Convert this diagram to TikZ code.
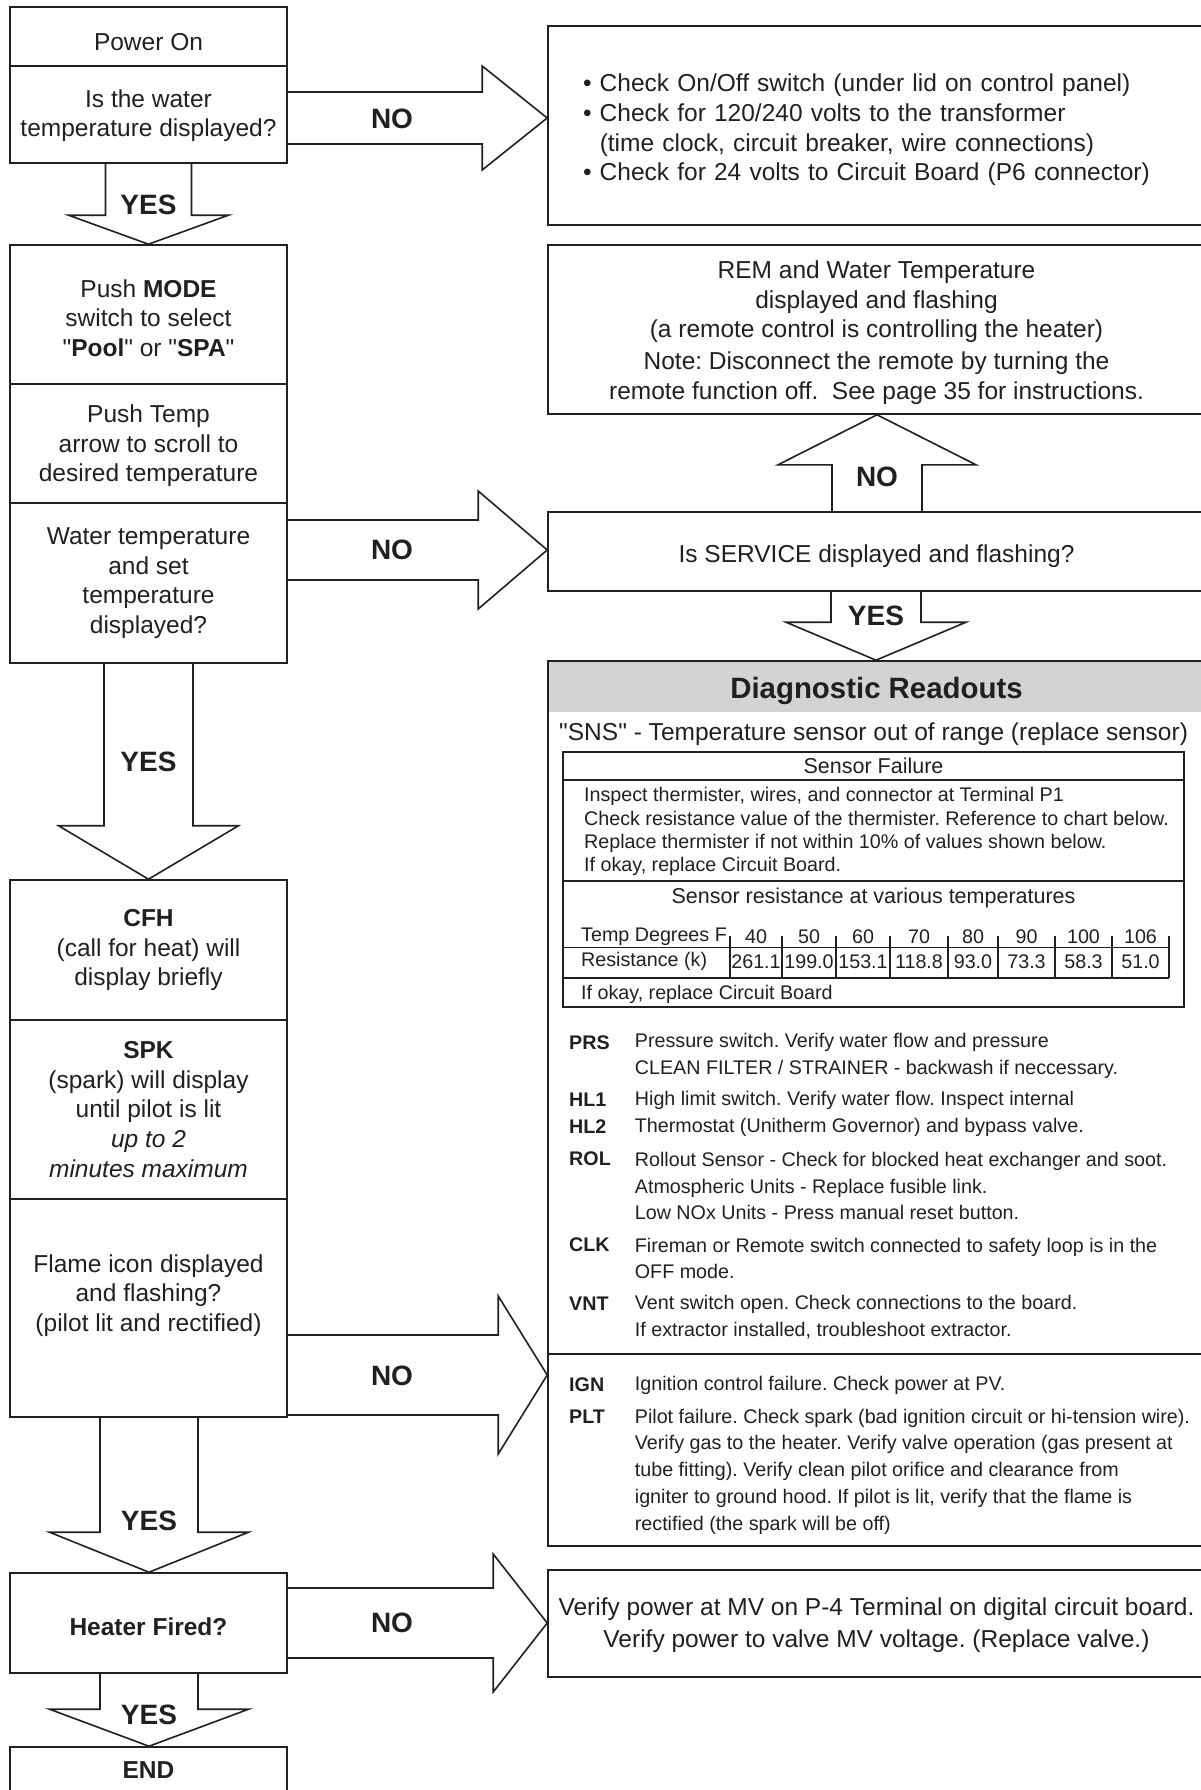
\documentclass[tikz,border=0pt]{standalone}
\usepackage{fontspec}
\setmainfont{Liberation Sans}
\usetikzlibrary{calc, positioning}
\frenchspacing

\definecolor{ink}{RGB}{35,31,32}
\definecolor{band}{RGB}{209,211,212}

\newcommand{\fbody}{\fontsize{24.5}{29.7}\selectfont}
\newcommand{\fmid}{\fontsize{21.5}{24}\selectfont}
\newcommand{\fsmall}{\fontsize{19.7}{23.3}\selectfont}
\newcommand{\fcode}{\fontsize{19.7}{26.8}\selectfont}
\newcommand{\fhead}{\fontsize{29.4}{32}\selectfont\bfseries}
\newcommand{\ftag}{\fontsize{28}{30}\selectfont\bfseries}
% straight double quote (no tex-text mapping)
\font\qf="Liberation Sans" at 24.5pt
\newcommand{\dq}{{\qf"}}
% taller first line pushes a centred text block down
\newcommand{\padtop}[1]{\rule{0pt}{#1}}

% fat outlined arrows: from, to, position, shaft half width, head half width, head length
\newcommand{\fatright}[6]{%
  \draw[fat] ($(#1.east |- 0,#3)+(0,-#4)$) -- ($(#2.west |- 0,#3)+(-#6,-#4)$) -- ++(0,#4-#5)
    -- (#2.west |- 0,#3) -- ($(#2.west |- 0,#3)+(-#6,#5)$) -- ++(0,#4-#5) -- ($(#1.east |- 0,#3)+(0,#4)$);}
\newcommand{\fatdown}[6]{%
  \draw[fat] ($(#3,0 |- #1.south)+(-#4,0)$) -- ($(#3,0 |- #2.north)+(-#4,-#6)$) -- ++(#4-#5,0)
    -- (#3,0 |- #2.north) -- ($(#3,0 |- #2.north)+(#5,-#6)$) -- ++(#4-#5,0) -- ($(#3,0 |- #1.south)+(#4,0)$);}
\newcommand{\fatup}[6]{%
  \draw[fat] ($(#3,0 |- #1.north)+(-#4,0)$) -- ($(#3,0 |- #2.south)+(-#4,#6)$) -- ++(#4-#5,0)
    -- (#3,0 |- #2.south) -- ($(#3,0 |- #2.south)+(#5,#6)$) -- ++(#4-#5,0) -- ($(#3,0 |- #1.north)+(#4,0)$);}

\begin{document}
\begin{tikzpicture}[
    x=1pt, y=-1pt,
    every node/.append style={text=ink},
    box/.style={draw=ink, line width=1.6pt, inner sep=0pt, align=center, font=\fbody, minimum width=277pt},
    wide/.style={box, minimum width=657pt},
    fat/.style={draw=ink, line width=1.6pt, line join=miter},
    tag/.style={font=\ftag, inner sep=0pt},
    txt/.style={inner sep=0pt, align=left, anchor=west},
    code/.style={txt, font=\fcode\bfseries},
    cell/.style={inner sep=0pt, font=\fsmall},
    tline/.style={draw=ink, line width=1.2pt}
]
\useasboundingbox (0,0) rectangle (1201,1790);

% left column
\node[box, minimum height=59pt, text height=28.6pt, text depth=0pt] (pwr) at (148.5,36.5) {Power On};
\node[box, minimum height=97pt] (q1) at (148.5,114.5) {\padtop{20pt}Is the water\\temperature displayed?};
\node[box, minimum height=139pt] (mode) at (148.5,314.5) {\padtop{24.7pt}Push \textbf{MODE}\\switch to select\\\dq\textbf{Pool}\dq{} or \dq\textbf{SPA}\dq};
\node[box, minimum height=119pt] (tmp) at (148.5,443.5) {\padtop{22.5pt}Push Temp\\arrow to scroll to\\desired temperature};
\node[box, minimum height=160pt] (q2) at (148.5,583) {Water temperature\\and set\\temperature\\displayed?};
\node[box, minimum height=140pt] (cfh) at (148.5,950) {\textbf{CFH}\\(call for heat) will\\display briefly};
\node[box, minimum height=179pt] (spk) at (148.5,1109.5) {\textbf{SPK}\\(spark) will display\\until pilot is lit\\\textit{up to 2}\\\textit{minutes maximum}};
\node[box, minimum height=218pt] (flm) at (148.5,1308) {};
\node[inner sep=0pt, align=center, font=\fbody] (flmtxt) at (148.5,1295.5) {Flame icon displayed\\and flashing?\\(pilot lit and rectified)};
\node[box, minimum height=100pt, font=\fbody\bfseries, text height=24.7pt, text depth=0pt] (fired) at (148.5,1623) {Heater Fired?};
\node[box, minimum height=46pt, font=\fbody\bfseries] (fin) at (148.5,1770) {END};

% right column
\node[wide, minimum height=199pt, align=left, text width=587pt] (chk) at (876.5,125.5)
  {\padtop{26.9pt}• Check On/Off switch (under lid on control panel)\\• Check for 120/240 volts to the transformer\\\phantom{•\ }(time clock, circuit breaker, wire connections)\\• Check for 24 volts to Circuit Board (P6 connector)};
\node[wide, minimum height=169pt] (rem) at (876.5,329.5)
  {\padtop{24pt}REM and Water Temperature\\displayed and flashing\\(a remote control is controlling the heater)\\[2pt]Note: Disconnect the remote by turning the\\remote function off.\ \ See page 35 for instructions.};
\node[wide, minimum height=79pt, text height=27pt, text depth=5.2pt] (srv) at (876.5,551.5) {Is SERVICE displayed and flashing?};

% diagnostic readouts
\node[fill=band, minimum width=657pt, minimum height=51pt, inner sep=0pt, font=\fhead, text height=24.4pt, text depth=0pt] (hd) at (876.5,686.5) {Diagnostic Readouts};
\node[wide, minimum height=693pt] (diag) at (876.5,1007.5) {};
\node[wide, minimum height=192pt] (ign) at (876.5,1450) {};
\node[txt, font=\fbody] (sns) at (559,734.4) {\dq SNS\dq{} - Temperature sensor out of range (replace sensor)};

\node[draw=ink, line width=1.2pt, minimum width=621pt, minimum height=255pt, inner sep=0pt] (sfl) at (873.5,879.5) {};
\draw[tline] (sfl.west |- 0,780) -- (sfl.east |- 0,780);
\draw[tline] (sfl.west |- 0,881) -- (sfl.east |- 0,881);
\node[cell, font=\fmid] (sfh) at (873.5,765.5) {Sensor Failure};
\node[txt, font=\fsmall] (insp) at (584,831.8) {Inspect thermister, wires, and connector at Terminal P1\\Check resistance value of the thermister. Reference to chart below.\\Replace thermister if not within 10\% of values shown below.\\If okay, replace Circuit Board.};
\node[cell, font=\fmid] (srh) at (873.5,898.3) {Sensor resistance at various temperatures};
\node[txt, font=\fsmall] (trow) at (581,936.4) {Temp Degrees F};
\node[txt, font=\fsmall] (rrow) at (581,961.5) {Resistance (k)};
\draw[tline] (sfl.west |- 0,947.5) -- (1169,947.5) (sfl.west |- 0,978) -- (1169,978);
\foreach \xa/\xb/\tv/\rv [count=\i] in {730/782/40/261.1, 782/836/50/199.0, 836/890/60/153.1, 890/948/70/118.8,
    948/998/80/93.0, 998/1055/90/73.3, 1055/1112/100/58.3, 1112/1169/106/51.0} {
  \node[cell] (t\i) at ({(\xa+\xb)/2},936.4) {\tv};
  \node[cell] (r\i) at ({(\xa+\xb)/2},961.5) {\rv};
  \draw[tline] (\xa,936) -- (\xa,978);
}
\draw[tline] (1169,936) -- (1169,978);
\node[txt, font=\fsmall] (okay) at (581,994) {If okay, replace Circuit Board};

% fault codes
\node[code] (prs) at (569,1042.5) {PRS};
\node[txt, font=\fcode] (prsd) at (634.7,1056.2) {Pressure switch. Verify water flow and pressure\\CLEAN FILTER / STRAINER - backwash if neccessary.};
\node[code] (hla) at (569,1100) {HL1};
\node[code] (hlb) at (569,1127) {HL2};
\node[txt, font=\fcode] (hld) at (634.7,1113.5) {High limit switch. Verify water flow. Inspect internal\\Thermostat (Unitherm Governor) and bypass valve.};
\node[code] (rol) at (569,1159) {ROL};
\node[txt, font=\fcode] (rold) at (634.7,1186) {Rollout Sensor - Check for blocked heat exchanger and soot.\\Atmospheric Units - Replace fusible link.\\Low NOx Units - Press manual reset button.};
\node[code] (clk) at (569,1245) {CLK};
\node[txt, font=\fcode] (clkd) at (634.7,1258.5) {Fireman or Remote switch connected to safety loop is in the\\OFF mode.};
\node[code] (vnt) at (569,1304) {VNT};
\node[txt, font=\fcode] (vntd) at (634.7,1317.4) {Vent switch open. Check connections to the board.\\If extractor installed, troubleshoot extractor.};
\node[code] (igc) at (569,1385) {IGN};
\node[txt, font=\fcode] (igcd) at (634.7,1385) {Ignition control failure. Check power at PV.};
\node[code] (plt) at (569,1417) {PLT};
\node[txt, font=\fcode] (pltd) at (634.7,1471.5) {Pilot failure. Check spark (bad ignition circuit or hi-tension wire).\\Verify gas to the heater. Verify valve operation (gas present at\\tube fitting). Verify clean pilot orifice and clearance from\\igniter to ground hood. If pilot is lit, verify that the flame is\\rectified (the spark will be off)};

\node[wide, minimum height=107pt] (ver) at (876.5,1623.5) {\padtop{21.3pt}Verify power at MV on P-4 Terminal on digital circuit board.\\[3pt]Verify power to valve MV voltage. (Replace valve.)};

% arrows
\fatright{q1}{chk}{118}{26}{52}{65}
\fatdown{q1}{mode}{148.5}{43}{80}{29}
\fatright{q2}{srv}{550}{30}{59}{69}
\fatup{srv}{rem}{877}{45}{99}{50}
\fatdown{srv}{diag}{876}{45}{90}{38}
\fatdown{q2}{cfh}{148.5}{44.5}{90}{53.5}
\fatright{flm}{ign}{1375}{40}{79}{49}
\fatdown{flm}{fired}{149}{49}{99.5}{40}
\fatright{fired}{ver}{1623}{35}{69}{54}
\fatdown{fired}{fin}{149}{49}{99.5}{37}

\node[tag] (yes1) at (148.5,205) {YES};
\node[tag] (no1) at (392,119) {NO};
\node[tag] (no2) at (392,550) {NO};
\node[tag] (nor) at (877,477) {NO};
\node[tag] (yesr) at (876,616) {YES};
\node[tag] (yes2) at (148.5,762) {YES};
\node[tag] (no3) at (392,1376) {NO};
\node[tag] (yes3) at (149,1521) {YES};
\node[tag] (no4) at (392,1623) {NO};
\node[tag] (yes4) at (149,1714.7) {YES};
\end{tikzpicture}
\end{document}
